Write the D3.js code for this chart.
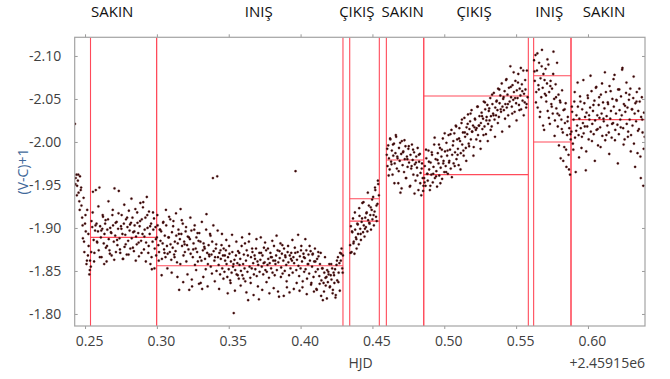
<!DOCTYPE html>
<html>
<head>
<meta charset="utf-8">
<script src="https://cdn.jsdelivr.net/npm/d3@7"></script>
<style>
  body { margin: 0; background: #fff; }
  svg { display: block; font-family: "Open Sans", "Noto Sans", sans-serif; }
</style>
</head>
<body>
<svg id="chart" width="670" height="379"></svg>
<script>
// light curve, HJD - 2459150
const hjd = [
  0.2430,0.2435,0.2440,0.2445,0.2450,0.2455,0.2460,0.2465,0.2470,0.2475,
  0.2480,0.2485,0.2490,0.2495,0.2500,0.2505,0.2510,0.2515,0.2520,0.2525,
  0.2530,0.2535,0.2540,0.2545,0.2550,0.2555,0.2560,0.2565,0.2570,0.2575,
  0.2580,0.2585,0.2590,0.2595,0.2600,0.2605,0.2610,0.2615,0.2620,0.2625,
  0.2630,0.2635,0.2640,0.2645,0.2650,0.2655,0.2660,0.2665,0.2670,0.2675,
  0.2680,0.2685,0.2690,0.2695,0.2700,0.2705,0.2710,0.2715,0.2720,0.2725,
  0.2730,0.2735,0.2740,0.2745,0.2750,0.2755,0.2760,0.2765,0.2770,0.2775,
  0.2780,0.2785,0.2790,0.2795,0.2800,0.2805,0.2810,0.2815,0.2820,0.2825,
  0.2830,0.2835,0.2840,0.2845,0.2850,0.2855,0.2860,0.2865,0.2870,0.2875,
  0.2880,0.2885,0.2890,0.2895,0.2900,0.2905,0.2910,0.2915,0.2920,0.2925,
  0.2930,0.2935,0.2940,0.2945,0.2950,0.2955,0.2960,0.2965,0.2970,0.2975,
  0.2980,0.2985,0.2990,0.2995,0.3000,0.3005,0.3010,0.3015,0.3020,0.3025,
  0.3030,0.3035,0.3040,0.3045,0.3050,0.3055,0.3060,0.3065,0.3070,0.3075,
  0.3080,0.3085,0.3090,0.3095,0.3100,0.3105,0.3110,0.3115,0.3120,0.3125,
  0.3130,0.3135,0.3140,0.3145,0.3150,0.3155,0.3160,0.3165,0.3170,0.3175,
  0.3180,0.3185,0.3190,0.3195,0.3200,0.3205,0.3210,0.3215,0.3220,0.3225,
  0.3230,0.3235,0.3240,0.3245,0.3250,0.3255,0.3260,0.3265,0.3270,0.3275,
  0.3280,0.3285,0.3290,0.3295,0.3300,0.3305,0.3310,0.3315,0.3320,0.3325,
  0.3330,0.3335,0.3340,0.3345,0.3350,0.3355,0.3360,0.3365,0.3370,0.3375,
  0.3380,0.3385,0.3390,0.3395,0.3400,0.3405,0.3410,0.3415,0.3420,0.3425,
  0.3430,0.3435,0.3440,0.3445,0.3450,0.3455,0.3460,0.3465,0.3470,0.3475,
  0.3480,0.3485,0.3490,0.3495,0.3500,0.3505,0.3510,0.3515,0.3520,0.3525,
  0.3530,0.3535,0.3540,0.3545,0.3550,0.3555,0.3560,0.3565,0.3570,0.3575,
  0.3580,0.3585,0.3590,0.3595,0.3600,0.3605,0.3610,0.3615,0.3620,0.3625,
  0.3630,0.3635,0.3640,0.3645,0.3650,0.3655,0.3660,0.3665,0.3670,0.3675,
  0.3680,0.3685,0.3690,0.3695,0.3700,0.3705,0.3710,0.3715,0.3720,0.3725,
  0.3730,0.3735,0.3740,0.3745,0.3750,0.3755,0.3760,0.3765,0.3770,0.3775,
  0.3780,0.3785,0.3790,0.3795,0.3800,0.3805,0.3810,0.3815,0.3820,0.3825,
  0.3830,0.3835,0.3840,0.3845,0.3850,0.3855,0.3860,0.3865,0.3870,0.3875,
  0.3880,0.3885,0.3890,0.3895,0.3900,0.3905,0.3910,0.3915,0.3920,0.3925,
  0.3930,0.3935,0.3940,0.3945,0.3950,0.3955,0.3960,0.3965,0.3970,0.3975,
  0.3980,0.3985,0.3990,0.3995,0.4000,0.4005,0.4010,0.4015,0.4020,0.4025,
  0.4030,0.4035,0.4040,0.4045,0.4050,0.4055,0.4060,0.4065,0.4070,0.4075,
  0.4080,0.4085,0.4090,0.4095,0.4100,0.4105,0.4110,0.4115,0.4120,0.4125,
  0.4130,0.4135,0.4140,0.4145,0.4150,0.4155,0.4160,0.4165,0.4170,0.4175,
  0.4180,0.4185,0.4190,0.4195,0.4200,0.4205,0.4210,0.4215,0.4220,0.4225,
  0.4230,0.4235,0.4240,0.4245,0.4250,0.4255,0.4260,0.4265,0.4270,0.4275,
  0.4280,0.4285,0.4290,0.4295,
  0.4345,0.4350,0.4355,0.4360,0.4365,0.4370,0.4375,0.4380,0.4385,0.4390,
  0.4395,0.4400,0.4405,0.4410,0.4415,0.4420,0.4425,0.4430,0.4435,0.4440,
  0.4445,0.4450,0.4455,0.4460,0.4465,0.4470,0.4475,0.4480,0.4485,0.4490,
  0.4495,0.4500,0.4505,0.4510,0.4515,0.4520,0.4525,0.4530,0.4535,0.4540,0.4545,
  0.4600,0.4605,0.4610,0.4615,0.4620,0.4625,0.4630,0.4635,0.4640,0.4645,
  0.4650,0.4655,0.4660,0.4665,0.4670,0.4675,0.4680,0.4685,0.4690,0.4695,
  0.4700,0.4705,0.4710,0.4715,0.4720,0.4725,0.4730,0.4735,0.4740,0.4745,
  0.4750,0.4755,0.4760,0.4765,0.4770,0.4775,0.4780,0.4785,0.4790,0.4795,
  0.4800,0.4805,0.4810,0.4815,0.4820,0.4825,0.4830,0.4835,0.4840,0.4845,
  0.4850,0.4855,
  0.4860,0.4865,0.4870,0.4875,0.4880,0.4885,0.4890,0.4895,0.4900,0.4905,
  0.4910,0.4915,0.4920,0.4925,0.4930,0.4935,0.4940,0.4945,0.4950,0.4955,
  0.4960,0.4965,0.4970,0.4975,0.4980,0.4985,0.4990,0.4995,0.5000,0.5005,
  0.5010,0.5015,0.5020,0.5025,0.5030,0.5035,0.5040,0.5045,0.5050,0.5055,
  0.5060,0.5065,0.5070,0.5075,0.5080,0.5085,0.5090,0.5095,0.5100,0.5105,
  0.5110,0.5115,0.5120,0.5125,0.5130,0.5135,0.5140,0.5145,0.5150,0.5155,
  0.5160,0.5165,0.5170,0.5175,0.5180,0.5185,0.5190,0.5195,0.5200,0.5205,
  0.5210,0.5215,0.5220,0.5225,0.5230,0.5235,0.5240,0.5245,0.5250,0.5255,
  0.5260,0.5265,0.5270,0.5275,0.5280,0.5285,0.5290,0.5295,0.5300,0.5305,
  0.5310,0.5315,0.5320,0.5325,0.5330,0.5335,0.5340,0.5345,0.5350,0.5355,
  0.5360,0.5365,0.5370,0.5375,0.5380,0.5385,0.5390,0.5395,0.5400,0.5405,
  0.5410,0.5415,0.5420,0.5425,0.5430,0.5435,0.5440,0.5445,0.5450,0.5455,
  0.5460,0.5465,0.5470,0.5475,0.5480,0.5485,0.5490,0.5495,0.5500,0.5505,
  0.5510,0.5515,0.5520,0.5525,0.5530,0.5535,0.5540,0.5545,0.5550,0.5555,
  0.5560,0.5565,0.5570,0.5575,0.5580,
  0.5625,0.5630,0.5635,0.5640,0.5645,0.5650,0.5655,0.5660,0.5665,0.5670,
  0.5675,0.5680,0.5685,0.5690,0.5695,0.5700,0.5705,0.5710,0.5715,0.5720,
  0.5725,0.5730,0.5735,0.5740,0.5745,0.5750,0.5755,0.5760,0.5765,0.5770,
  0.5775,0.5780,0.5785,0.5790,0.5795,0.5800,0.5805,0.5810,0.5815,0.5820,
  0.5825,0.5830,0.5835,0.5840,0.5845,0.5850,0.5855,0.5860,0.5865,0.5870,
  0.5875,0.5880,
  0.5885,0.5890,0.5895,0.5900,0.5905,0.5910,0.5915,0.5920,0.5925,0.5930,
  0.5935,0.5940,0.5945,0.5950,0.5955,0.5960,0.5965,0.5970,0.5975,0.5980,
  0.5985,0.5990,0.5995,0.6000,0.6005,0.6010,0.6015,0.6020,0.6025,0.6030,
  0.6035,0.6040,0.6045,0.6050,0.6055,0.6060,0.6065,0.6070,0.6075,0.6080,
  0.6085,0.6090,0.6095,0.6100,0.6105,0.6110,0.6115,0.6120,0.6125,0.6130,
  0.6135,0.6140,0.6145,0.6150,0.6155,0.6160,0.6165,0.6170,0.6175,0.6180,
  0.6185,0.6190,0.6195,0.6200,0.6205,0.6210,0.6215,0.6220,0.6225,0.6230,
  0.6235,0.6240,0.6245,0.6250,0.6255,0.6260,0.6265,0.6270,0.6275,0.6280,
  0.6285,0.6290,0.6295,0.6300,0.6305,0.6310,0.6315,0.6320,0.6325,0.6330,
  0.6335,0.6340,0.6345,0.6350,0.6355,0.6360,0.6365,0.6370,0.6375,0.6380,
  0.6385,0.6390,0.6395,
  // second camera readout, interleaved
  0.2433,0.2443,0.2453,0.2463,0.2473,0.2483,0.2493,0.2503,0.2513,0.2523,0.2533,
  0.2543,0.2553,0.2563,0.2573,0.2583,0.2593,0.2603,0.2613,0.2623,0.2633,
  0.2643,0.2653,0.2663,0.2673,0.2683,0.2693,0.2703,0.2713,0.2723,0.2733,
  0.2743,0.2753,0.2763,0.2773,0.2783,0.2793,0.2803,0.2813,0.2823,0.2833,
  0.2843,0.2853,0.2863,0.2873,0.2883,0.2893,0.2903,0.2913,0.2923,0.2933,
  0.2943,0.2953,0.2963,0.2973,0.2983,0.2993,
  0.3003,0.3013,0.3023,0.3033,0.3043,0.3053,0.3063,0.3073,0.3083,0.3093,
  0.3103,0.3113,0.3123,0.3133,0.3143,0.3153,0.3163,0.3173,0.3183,0.3193,
  0.3203,0.3213,0.3223,0.3233,0.3243,0.3253,0.3263,0.3273,0.3283,0.3293,
  0.3303,0.3313,0.3323,0.3333,0.3343,0.3353,0.3363,0.3373,0.3383,0.3393,
  0.3403,0.3413,0.3423,0.3433,0.3443,0.3453,0.3463,0.3473,0.3483,0.3493,
  0.3503,0.3513,0.3523,0.3533,0.3543,0.3553,0.3563,0.3573,0.3583,0.3593,
  0.3603,0.3613,0.3623,0.3633,0.3643,0.3653,0.3663,0.3673,0.3683,0.3693,
  0.3703,0.3713,0.3723,0.3733,0.3743,0.3753,0.3763,0.3773,0.3783,0.3793,
  0.3803,0.3813,0.3823,0.3833,0.3843,0.3853,0.3863,0.3873,0.3883,0.3893,
  0.3903,0.3913,0.3923,0.3933,0.3943,0.3953,0.3963,0.3973,0.3983,0.3993,
  0.4003,0.4013,0.4023,0.4033,0.4043,0.4053,0.4063,0.4073,0.4083,0.4093,
  0.4103,0.4113,0.4123,0.4133,0.4143,0.4153,0.4163,0.4173,0.4183,0.4193,
  0.4203,0.4213,0.4223,0.4233,0.4243,0.4253,0.4263,0.4273,0.4283,0.4293,
  0.4348,0.4358,0.4368,0.4378,0.4388,0.4398,0.4408,0.4418,0.4428,0.4438,
  0.4448,0.4458,0.4468,0.4478,0.4488,0.4498,0.4508,0.4518,0.4528,0.4538,
  0.4603,0.4613,0.4623,0.4633,0.4643,0.4653,0.4663,0.4673,0.4683,0.4693,
  0.4703,0.4713,0.4723,0.4733,0.4743,0.4753,0.4763,0.4773,0.4783,0.4793,
  0.4803,0.4813,0.4823,0.4833,0.4843,0.4853,
  0.4863,0.4873,0.4883,0.4893,0.4903,0.4913,0.4923,0.4933,0.4943,0.4953,
  0.4963,0.4973,0.4983,0.4993,0.5003,0.5013,0.5023,0.5033,0.5043,0.5053,
  0.5063,0.5073,0.5083,0.5093,0.5103,0.5113,0.5123,0.5133,0.5143,0.5153,
  0.5163,0.5173,0.5183,0.5193,0.5203,0.5213,0.5223,0.5233,0.5243,0.5253,
  0.5263,0.5273,0.5283,0.5293,0.5303,0.5313,0.5323,0.5333,0.5343,0.5353,
  0.5363,0.5373,0.5383,0.5393,0.5403,0.5413,0.5423,0.5433,0.5443,0.5453,
  0.5463,0.5473,0.5483,0.5493,0.5503,0.5513,0.5523,0.5533,0.5543,0.5553,
  0.5563,0.5573,
  0.5628,0.5638,0.5648,0.5658,0.5668,0.5678,0.5688,0.5698,0.5708,0.5718,
  0.5728,0.5738,0.5748,0.5758,0.5768,0.5778,0.5788,0.5798,0.5808,0.5818,
  0.5828,0.5838,0.5848,0.5858,0.5868,0.5878,
  0.5888,0.5898,0.5908,0.5918,0.5928,0.5938,0.5948,0.5958,0.5968,0.5978,
  0.5988,0.5998,0.6008,0.6018,0.6028,0.6038,0.6048,0.6058,0.6068,0.6078,
  0.6088,0.6098,0.6108,0.6118,0.6128,0.6138,0.6148,0.6158,0.6168,0.6178,
  0.6188,0.6198,0.6208,0.6218,0.6228,0.6238,0.6248,0.6258,0.6268,0.6278,
  0.6288,0.6298,0.6308,0.6318,0.6328,0.6338,0.6348,0.6358,0.6368,0.6378,
  0.6388
];

const vc = [
  -2.021,-1.958,-1.962,-1.949,-1.955,-1.941,-1.931,-1.960,-1.944,-1.926,
  -1.912,-1.888,-1.935,-1.872,-1.905,-1.896,-1.858,-1.921,-1.868,-1.879,
  -1.846,-1.862,-1.855,-1.908,-1.901,-1.942,-1.886,-1.871,-1.897,-1.944,
  -1.905,-1.883,-1.896,-1.874,-1.947,-1.902,-1.889,-1.866,-1.899,-1.913,
  -1.882,-1.893,-1.905,-1.877,-1.861,-1.898,-1.910,-1.887,-1.874,-1.900,
  -1.895,-1.868,-1.915,-1.903,-1.884,-1.946,-1.891,-1.872,-1.907,-1.880,
  -1.899,-1.943,-1.888,-1.871,-1.902,-1.915,-1.893,-1.864,-1.905,-1.878,
  -1.892,-1.910,-1.869,-1.901,-1.885,-1.920,-1.897,-1.876,-1.906,-1.888,
  -1.912,-1.895,-1.873,-1.903,-1.922,-1.890,-1.881,-1.906,-1.894,-1.867,
  -1.902,-1.929,-1.885,-1.910,-1.893,-1.930,-1.875,-1.898,-1.912,-1.883,
  -1.936,-1.900,-1.871,-1.919,-1.893,-1.858,-1.905,-1.852,-1.884,-1.898,
  -1.911,-1.876,-1.901,-1.868,-1.889,-1.903,-1.880,-1.872,-1.898,-1.885,
  -1.896,-1.864,-1.882,-1.907,-1.875,-1.891,-1.866,-1.903,-1.879,-1.870,
  -1.889,-1.913,-1.872,-1.881,-1.863,-1.895,-1.877,-1.908,-1.869,-1.884,
  -1.873,-1.891,-1.860,-1.882,-1.898,-1.828,-1.887,-1.922,-1.893,-1.879,
  -1.905,-1.868,-1.884,-1.872,-1.896,-1.861,-1.880,-1.890,-1.875,-1.828,
  -1.887,-1.870,-1.897,-1.832,-1.866,-1.882,-1.898,-1.857,-1.876,-1.889,
  -1.872,-1.861,-1.885,-1.894,-1.866,-1.836,-1.862,-1.829,-1.874,-1.882,
  -1.878,-1.864,-1.852,-1.916,-1.871,-1.858,-1.880,-1.867,-1.893,-1.855,
  -1.869,-1.884,-1.958,-1.873,-1.862,-1.866,-1.876,-1.850,-1.960,-1.866,
  -1.857,-1.871,-1.846,-1.864,-1.880,-1.853,-1.868,-1.876,-1.849,-1.862,
  -1.874,-1.858,-1.843,-1.866,-1.852,-1.870,-1.839,-1.861,-1.848,-1.872,
  -1.855,-1.801,-1.863,-1.851,-1.868,-1.846,-1.859,-1.873,-1.841,-1.857,
  -1.864,-1.850,-1.879,-1.845,-1.858,-1.869,-1.853,-1.838,-1.862,-1.874,
  -1.849,-1.816,-1.884,-1.855,-1.842,-1.866,-1.853,-1.872,-1.859,-1.846,
  -1.868,-1.852,-1.876,-1.844,-1.861,-1.857,-1.817,-1.849,-1.863,-1.871,
  -1.855,-1.868,-1.846,-1.877,-1.860,-1.851,-1.874,-1.849,-1.857,-1.864,
  -1.842,-1.859,-1.871,-1.853,-1.866,-1.848,-1.862,-1.879,-1.845,-1.858,
  -1.868,-1.851,-1.874,-1.860,-1.820,-1.865,-1.882,-1.854,-1.870,-1.847,
  -1.862,-1.876,-1.850,-1.866,-1.857,-1.831,-1.872,-1.860,-1.845,-1.868,
  -1.853,-1.871,-1.862,-1.848,-1.866,-1.859,-1.877,-1.966,-1.851,-1.863,
  -1.872,-1.856,-1.844,-1.867,-1.853,-1.879,-1.861,-1.838,-1.870,-1.849,
  -1.865,-1.852,-1.874,-1.841,-1.858,-1.869,-1.847,-1.862,-1.873,-1.836,
  -1.855,-1.870,-1.843,-1.861,-1.876,-1.849,-1.829,-1.864,-1.852,-1.867,
  -1.844,-1.858,-1.871,-1.839,-1.853,-1.816,-1.836,-1.848,-1.866,-1.833,
  -1.843,-1.851,-1.837,-1.846,-1.858,-1.832,-1.845,-1.840,-1.853,-1.828,
  -1.848,-1.836,-1.852,-1.822,-1.857,-1.839,-1.866,-1.848,-1.859,-1.871,
  -1.862,-1.876,-1.853,-1.868,
  -1.880,-1.902,-1.872,-1.895,-1.911,-1.884,-1.870,-1.898,-1.889,-1.876,
  -1.905,-1.893,-1.881,-1.914,-1.899,-1.886,-1.907,-1.929,-1.895,-1.903,
  -1.890,-1.912,-1.901,-1.918,-1.896,-1.909,-1.926,-1.905,-1.915,-1.898,
  -1.921,-1.910,-1.936,-1.903,-1.919,-1.944,-1.913,-1.908,-1.928,-1.951,-1.938,
  -1.985,-1.972,-1.996,-1.981,-1.968,-2.003,-1.977,-1.990,-1.962,-1.984,
  -1.998,-1.975,-1.987,-2.006,-1.969,-1.981,-1.952,-1.993,-1.978,-1.941,
  -1.986,-2.001,-1.973,-1.989,-1.965,-1.980,-1.995,-1.958,-1.983,-1.971,
  -1.992,-1.976,-1.948,-1.985,-1.969,-1.997,-1.979,-1.962,-1.988,-1.974,
  -1.955,-1.983,-1.970,-1.993,-1.944,-1.977,-1.986,-1.964,-1.938,-1.975,
  -1.958,-1.949,
  -1.958,-1.972,-1.949,-1.981,-1.963,-1.955,-1.990,-1.968,-1.944,-1.976,
  -1.962,-1.985,-1.953,-1.971,-1.997,-1.958,-1.980,-1.966,-1.948,-1.987,
  -1.975,-1.961,-1.993,-1.970,-1.983,-1.957,-2.004,-1.978,-1.965,-1.989,
  -1.972,-1.999,-1.984,-1.963,-2.008,-1.978,-1.991,-1.969,-2.014,-1.985,
  -1.996,-1.975,-2.010,-1.988,-2.019,-1.980,-2.003,-1.992,-1.973,-2.016,
  -2.001,-1.987,-2.022,-1.997,-2.011,-1.984,-2.028,-2.006,-1.993,-2.017,
  -2.009,-2.032,-1.998,-2.015,-2.024,-2.003,-2.037,-2.012,-2.019,-1.994,
  -2.017,-2.026,-2.014,-2.016,-2.041,-2.008,-2.019,-2.030,-2.001,-2.022,
  -2.034,-2.015,-2.027,-2.047,-2.018,-2.038,-2.009,-2.029,-2.043,-2.021,
  -2.036,-2.025,-2.051,-2.030,-2.018,-2.044,-2.033,-2.057,-2.026,-2.040,
  -2.031,-2.048,-2.037,-2.062,-2.029,-2.045,-2.054,-2.035,-2.068,-2.041,
  -2.050,-2.037,-2.059,-2.044,-2.072,-2.040,-2.055,-2.031,-2.063,-2.047,
  -2.088,-2.052,-2.041,-2.066,-2.049,-2.058,-2.035,-2.071,-2.045,-2.060,
  -2.051,-2.079,-2.043,-2.062,-2.054,-2.038,-2.067,-2.048,-2.083,-2.056,
  -2.046,-2.061,-2.040,-2.083,-2.052,
  -2.095,-2.071,-2.101,-2.058,-2.083,-2.040,-2.066,-2.092,-2.029,-2.074,
  -2.052,-2.107,-2.063,-2.079,-2.014,-2.056,-2.085,-2.047,-2.068,-2.036,
  -2.090,-2.058,-2.021,-2.071,-2.044,-2.062,-2.033,-2.105,-2.050,-2.025,
  -2.067,-2.039,-2.092,-2.018,-2.055,-2.031,-2.048,-1.981,-2.026,-2.060,
  -2.011,-2.037,-1.994,-2.022,-2.045,-1.971,-2.008,-2.029,-1.985,-2.016,
  -1.962,-2.003,
  -2.012,-2.035,-1.998,-2.026,-2.047,-2.005,-1.965,-2.031,-2.019,-2.041,
  -2.008,-2.027,-2.053,-2.016,-1.993,-2.038,-2.022,-2.010,-2.045,-2.029,
  -1.967,-2.034,-2.018,-2.051,-2.003,-2.026,-2.040,-2.012,-2.059,-2.021,
  -2.036,-2.009,-2.048,-2.025,-2.063,-2.014,-2.031,-1.996,-2.043,-2.028,
  -2.017,-2.055,-2.033,-2.007,-2.046,-2.024,-2.039,-2.002,-2.058,-2.030,
  -2.019,-2.044,-2.011,-2.065,-2.027,-2.036,-2.005,-2.050,-2.022,-2.041,
  -2.078,-2.014,-2.033,-2.048,-2.020,-2.061,-2.009,-2.037,-2.026,-2.053,
  -2.031,-2.086,-2.016,-2.044,-2.003,-2.035,-2.057,-2.021,-2.040,-2.012,
  -2.049,-2.026,-2.062,-2.008,-2.038,-2.019,-2.051,-1.998,-2.033,-2.045,
  -2.024,-2.058,-1.987,-2.036,-2.015,-2.047,-1.983,-2.029,-2.052,-2.011,
  -1.949,-2.034,-2.006,
  // second camera readout, interleaved
  -1.951,-1.938,-1.962,-1.921,-1.947,-1.903,-1.884,-1.915,-1.862,-1.893,-1.851,
  -1.872,-1.918,-1.861,-1.903,-1.884,-1.925,-1.866,-1.897,-1.915,-1.858,
  -1.909,-1.879,-1.931,-1.870,-1.894,-1.921,-1.863,-1.906,-1.886,-1.917,
  -1.875,-1.899,-1.864,-1.927,-1.881,-1.912,-1.869,-1.904,-1.934,-1.877,
  -1.896,-1.862,-1.918,-1.883,-1.908,-1.871,-1.924,-1.890,-1.861,-1.915,
  -1.879,-1.902,-1.866,-1.918,-1.853,-1.887,
  -1.915,-1.862,-1.898,-1.845,-1.906,-1.871,-1.921,-1.853,-1.889,-1.910,
  -1.848,-1.902,-1.866,-1.917,-1.843,-1.893,-1.858,-1.909,-1.837,-1.881,
  -1.901,-1.846,-1.889,-1.912,-1.840,-1.875,-1.903,-1.851,-1.894,-1.835,
  -1.884,-1.907,-1.843,-1.876,-1.898,-1.832,-1.869,-1.891,-1.847,-1.903,
  -1.838,-1.881,-1.897,-1.829,-1.874,-1.893,-1.841,-1.868,-1.886,-1.824,
  -1.879,-1.836,-1.892,-1.858,-1.827,-1.884,-1.845,-1.871,-1.833,-1.889,
  -1.841,-1.882,-1.825,-1.868,-1.893,-1.836,-1.876,-1.822,-1.864,-1.887,
  -1.832,-1.871,-1.889,-1.828,-1.859,-1.883,-1.837,-1.876,-1.824,-1.866,
  -1.885,-1.830,-1.862,-1.891,-1.826,-1.873,-1.843,-1.880,-1.821,-1.868,
  -1.838,-1.879,-1.825,-1.864,-1.886,-1.829,-1.871,-1.836,-1.892,-1.827,
  -1.874,-1.831,-1.866,-1.887,-1.823,-1.858,-1.879,-1.834,-1.869,-1.826,
  -1.861,-1.828,-1.872,-1.835,-1.821,-1.853,-1.826,-1.842,-1.818,-1.849,
  -1.831,-1.858,-1.824,-1.845,-1.819,-1.862,-1.837,-1.827,-1.870,-1.848,
  -1.871,-1.896,-1.882,-1.918,-1.887,-1.904,-1.923,-1.893,-1.911,-1.930,
  -1.899,-1.917,-1.941,-1.906,-1.924,-1.933,-1.915,-1.947,-1.926,-1.955,
  -1.992,-1.961,-2.004,-1.974,-1.997,-1.952,-2.008,-1.983,-1.966,-1.999,
  -1.946,-1.988,-2.002,-1.958,-1.980,-1.995,-1.949,-1.972,-1.991,-1.940,
  -1.976,-1.961,-1.985,-1.952,-1.969,-1.943,
  -1.953,-1.991,-1.963,-1.977,-1.949,-1.988,-1.963,-2.005,-1.960,-1.979,
  -1.997,-1.952,-1.991,-1.975,-2.010,-1.965,-1.990,-1.976,-2.009,-1.959,
  -2.001,-1.972,-2.018,-1.985,-2.004,-1.968,-2.026,-1.990,-2.011,-1.978,
  -2.021,-1.995,-2.033,-2.012,-1.984,-2.027,-2.003,-2.041,-2.019,-1.992,
  -2.030,-2.008,-2.046,-2.025,-2.001,-2.039,-2.014,-2.055,-2.031,-2.006,
  -2.047,-2.022,-2.061,-2.038,-2.012,-2.052,-2.027,-2.073,-2.044,-2.018,
  -2.064,-2.033,-2.081,-2.051,-2.025,-2.069,-2.037,-2.086,-2.059,-2.031,
  -2.072,-2.044,
  -2.082,-2.046,-2.103,-2.061,-2.035,-2.088,-2.019,-2.072,-2.054,-2.096,
  -2.028,-2.065,-2.041,-2.079,-2.007,-2.052,-2.033,-1.996,-2.046,-2.015,
  -1.978,-2.038,-1.991,-2.024,-1.968,-2.009,
  -2.041,-1.991,-2.058,-2.013,-2.069,-1.982,-2.047,-2.006,-2.072,-2.018,
  -1.989,-2.054,-2.031,-2.077,-2.001,-2.043,-1.978,-2.064,-2.015,-2.052,
  -1.994,-2.068,-2.027,-2.081,-2.008,-2.046,-1.986,-2.059,-2.021,-2.073,
  -2.002,-2.049,-1.975,-2.061,-2.017,-2.084,-1.997,-2.042,-2.069,-2.006,
  -2.055,-1.989,-2.038,-2.076,-1.971,-2.047,-2.013,-2.062,-1.958,-2.026,
  -1.992
];

// phases: label, where the label sits, bounds and level lines
const phaseLabels = ['SAKIN', 'INIŞ', 'ÇIKIŞ', 'SAKIN', 'ÇIKIŞ', 'INIŞ', 'SAKIN'];
const phaseLabelX = [0.2689, 0.3709, 0.4391, 0.4711, 0.5207, 0.5731, 0.6112];
const phaseStart = [0.2538, 0.2998, 0.4342, 0.4597, 0.4857, 0.5622, 0.5882];
const phaseEnd = [0.2998, 0.4295, 0.4548, 0.4857, 0.5585, 0.5882, 0.6420];
const phaseLevels = [[-1.889], [-1.856], [-1.908, -1.934], [-1.979], [-1.962, -2.0535], [-2.077, -2.000], [-2.026]];

const xTicks = [0.25, 0.30, 0.35, 0.40, 0.45, 0.50, 0.55, 0.60];
const yTicks = [-2.10, -2.05, -2.00, -1.95, -1.90, -1.85, -1.80];

const plot = { left: 74.7, right: 645, top: 37.3, bottom: 326 };

const svg = d3.select('#chart');

const x = d3.scaleLinear().domain([0.2428, 0.6397]).range([plot.left, plot.right]);
const y = d3.scaleLinear().domain([-2.1217, -1.786]).range([plot.top, plot.bottom]);

svg.append('defs').append('clipPath').attr('id', 'clip')
  .append('rect')
  .attr('x', plot.left).attr('y', plot.top)
  .attr('width', plot.right - plot.left).attr('height', plot.bottom - plot.top);

// axes (ticks on all four sides, labels bottom/left only)
const tickColor = '#9a9a9a';
const labelColor = '#404040';

const bottomAxis = svg.append('g')
  .attr('transform', `translate(0,${plot.bottom})`)
  .call(d3.axisBottom(x).tickValues(xTicks).tickSize(3).tickPadding(7).tickFormat(d => d.toFixed(2)));
bottomAxis.selectAll('text').attr('dx', 4);

const topAxis = svg.append('g')
  .attr('transform', `translate(0,${plot.top})`)
  .call(d3.axisTop(x).tickValues(xTicks).tickSize(3).tickFormat(''));

const leftAxis = svg.append('g')
  .attr('transform', `translate(${plot.left},0)`)
  .call(d3.axisLeft(y).tickValues(yTicks).tickSize(-3).tickPadding(13.5).tickFormat(d => d.toFixed(2)));

const rightAxis = svg.append('g')
  .attr('transform', `translate(${plot.right},0)`)
  .call(d3.axisRight(y).tickValues(yTicks).tickSize(-3).tickFormat(''));

[bottomAxis, topAxis, leftAxis, rightAxis].forEach(g => {
  g.select('.domain').remove();
  g.selectAll('line').attr('stroke', tickColor);
  g.selectAll('text')
    .attr('fill', labelColor)
    .style('font-family', '"Open Sans", sans-serif')
    .style('font-size', '14px');
});

// phase boundaries and level lines
const phaseGroup = svg.append('g').attr('clip-path', 'url(#clip)');
const red = '#ff4a5a';

phaseStart.forEach((s, i) => {
  [s, phaseEnd[i]].forEach(v => {
    phaseGroup.append('line')
      .attr('x1', x(v)).attr('x2', x(v))
      .attr('y1', plot.top).attr('y2', plot.bottom)
      .attr('stroke', red).attr('stroke-width', 1.1);
  });
  phaseLevels[i].forEach(lv => {
    phaseGroup.append('line')
      .attr('x1', x(s)).attr('x2', x(phaseEnd[i]))
      .attr('y1', y(lv)).attr('y2', y(lv))
      .attr('stroke', red).attr('stroke-width', 1.1);
  });
});

// observations
svg.append('g').attr('clip-path', 'url(#clip)')
  .selectAll('circle')
  .data(hjd.map((h, i) => [h, vc[i]]))
  .join('circle')
  .attr('cx', d => x(d[0]))
  .attr('cy', d => y(d[1]))
  .attr('r', 1.15)
  .attr('fill', '#2e0808')
  .attr('stroke', '#6e1c1c')
  .attr('stroke-width', 0.3);

// frame
svg.append('rect')
  .attr('x', plot.left).attr('y', plot.top)
  .attr('width', plot.right - plot.left).attr('height', plot.bottom - plot.top)
  .attr('fill', 'none').attr('stroke', '#a3a3a3').attr('stroke-width', 1.2);

// phase names above the plot
svg.append('g').selectAll('text')
  .data(phaseLabels)
  .join('text')
  .attr('x', (d, i) => x(phaseLabelX[i]))
  .attr('y', 16.5)
  .attr('text-anchor', 'middle')
  .attr('fill', '#111')
  .style('font-size', '15px')
  .text(d => d);

// axis titles
svg.append('text')
  .attr('x', 360.5).attr('y', 368)
  .attr('text-anchor', 'middle')
  .attr('fill', labelColor)
  .style('font-size', '14px')
  .text('HJD');

svg.append('text')
  .attr('x', plot.right).attr('y', 368)
  .attr('text-anchor', 'end')
  .attr('fill', labelColor)
  .style('font-size', '14px')
  .text('+2.45915e6');

svg.append('text')
  .attr('transform', 'translate(28,171.5) rotate(-90)')
  .attr('text-anchor', 'middle')
  .attr('fill', '#41689a')
  .style('font-size', '14px')
  .text('(V-C)+1');
</script>
</body>
</html>
